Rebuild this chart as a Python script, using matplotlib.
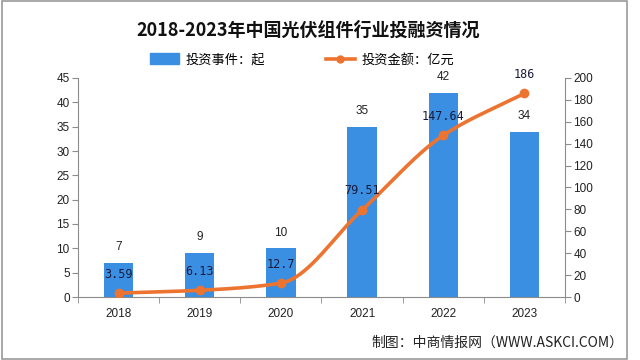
import matplotlib
matplotlib.use("Agg")
import matplotlib.pyplot as plt
import numpy as np
from matplotlib.patches import Rectangle
from matplotlib.lines import Line2D
from matplotlib.patches import Patch

plt.rcParams['font.family'] = ['Noto Sans CJK SC', 'DejaVu Sans']

years = ['2018', '2019', '2020', '2021', '2022', '2023']
events = [7, 9, 10, 35, 42, 34]
amounts = [3.59, 6.13, 12.7, 79.51, 147.64, 186]
amount_labels = ['3.59', '6.13', '12.7', '79.51', '147.64', '186']

bar_color = '#3B8FE2'
line_color = '#EC7430'
axis_color = '#8C8C8C'

fig = plt.figure(figsize=(6.4, 3.6), dpi=100)
ax = fig.add_axes([78/640, 1-297/360, (565-78)/640, (297-78)/360])
ax2 = ax.twinx()

x = np.arange(len(years))
ax.bar(x, events, width=0.36, color=bar_color, zorder=2)
for xi, v in zip(x, events):
    ax.annotate(str(v), (xi, v), xytext=(0, 7), textcoords='offset points',
                ha='center', va='bottom', fontsize=8.5, color='#222222',
                family=['Liberation Sans'])

# smooth monotone cubic curve through the data points (Fritsch-Carlson)
def pchip(px, py, n=40):
    px = np.asarray(px, float); py = np.asarray(py, float)
    h = np.diff(px); d = np.diff(py) / h
    m = np.zeros_like(py)
    m[0] = d[0]; m[-1] = d[-1]
    for i in range(1, len(py)-1):
        if d[i-1] * d[i] <= 0:
            m[i] = 0
        else:
            w1 = 2*h[i] + h[i-1]; w2 = h[i] + 2*h[i-1]
            m[i] = (w1 + w2) / (w1/d[i-1] + w2/d[i])
    xs, ys = [], []
    for i in range(len(px)-1):
        t = np.linspace(0, 1, n)
        h00 = 2*t**3 - 3*t**2 + 1; h10 = t**3 - 2*t**2 + t
        h01 = -2*t**3 + 3*t**2; h11 = t**3 - t**2
        xs.append(px[i] + t*h[i])
        ys.append(h00*py[i] + h10*h[i]*m[i] + h01*py[i+1] + h11*h[i]*m[i+1])
    return np.concatenate(xs), np.concatenate(ys)

cx, cy = pchip(x, amounts)
ax2.plot(cx, cy, color=line_color, lw=2.6, zorder=3, solid_capstyle='round')
ax2.plot(x, amounts, 'o', color=line_color, ms=6, zorder=4)
for xi, v, lab in zip(x, amounts, amount_labels):
    ax2.annotate(lab, (xi, v), xytext=(0, 9), textcoords='offset points',
                 ha='center', va='bottom', fontsize=8.5, color='#1a1a3a',
                 family=['DejaVu Sans Mono'], zorder=5)

ax.set_xlim(-0.5, 5.5)
ax.set_ylim(0, 45)
ax.set_yticks(range(0, 46, 5))
ax2.set_ylim(0, 200)
ax2.set_yticks(range(0, 201, 20))
ax.set_xticks(x)
ax.set_xticklabels(years)
ax.set_xticks(np.arange(-0.5, 5.6, 1), minor=True)
ax.tick_params(axis='x', which='major', length=0, pad=8)
ax.tick_params(axis='x', which='minor', length=4, color=axis_color)

for a in (ax, ax2):
    a.spines['top'].set_visible(False)
    for s in ('left', 'right', 'bottom'):
        a.spines[s].set_color(axis_color)
    a.tick_params(labelsize=8.5, colors='#222222')
    for lab in a.get_xticklabels() + a.get_yticklabels():
        lab.set_family(['Liberation Sans'])
ax.tick_params(axis='y', length=4, color=axis_color, pad=2)
ax2.tick_params(axis='y', length=4, color=axis_color, pad=2)
ax.spines['right'].set_visible(False)
ax2.spines['left'].set_visible(False)
ax2.spines['bottom'].set_visible(False)

fig.text(308/640, 1-30/360, '2018-2023年中国光伏组件行业投融资情况', ha='center', va='center',
         fontsize=13, fontweight='bold', color='#111111')

handles = [Patch(color=bar_color), Line2D([0], [0], color=line_color, lw=2.6, marker='o', ms=5)]
fig.legend(handles, ['投资事件：起', '投资金额：亿元'], loc='center', bbox_to_anchor=(302/640, 1-60/360),
           ncol=2, frameon=False, fontsize=9.5, handlelength=2.2, handleheight=0.9,
           columnspacing=4.6, handletextpad=0.5)

fig.text(623/640, 1-343/360, '制图：中商情报网（WWW.ASKCI.COM）', ha='right', va='center',
         fontsize=10, color='#222222')

fig.patches.append(Rectangle((0.003, 0.004), 0.977, 0.994, transform=fig.transFigure,
                             fill=False, edgecolor='#9a9a9a', lw=1.2))

fig.savefig('out.png', dpi=100)
